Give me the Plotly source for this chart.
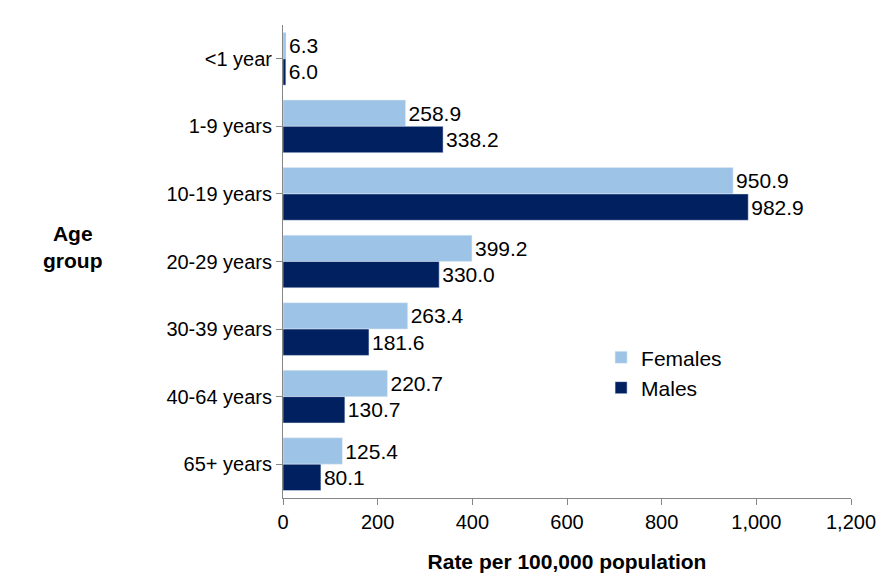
import plotly.graph_objects as go

categories = ["<1 year", "1-9 years", "10-19 years", "20-29 years", "30-39 years", "40-64 years", "65+ years"]
females = [6.3, 258.9, 950.9, 399.2, 263.4, 220.7, 125.4]
males = [6.0, 338.2, 982.9, 330.0, 181.6, 130.7, 80.1]

font = dict(family="Arial, Liberation Sans", size=21, color="black")
fig = go.Figure()
fig.add_trace(go.Bar(y=categories, x=females, orientation="h", name="Females",
                     marker_color="#9DC3E6", text=[f"{v:.1f}" for v in females],
                     textposition="outside", textfont=font, cliponaxis=False))
fig.add_trace(go.Bar(y=categories, x=males, orientation="h", name="Males",
                     marker_color="#002060", text=[f"{v:.1f}" for v in males],
                     textposition="outside", textfont=font, cliponaxis=False))
fig.update_layout(
    width=889, height=584, barmode="group", bargap=0.22, bargroupgap=0,
    plot_bgcolor="white", paper_bgcolor="white", font=font,
    margin=dict(l=275, r=46, t=17, b=94),
    legend=dict(x=0.56, y=0.34, xanchor="left", yanchor="top", font=dict(size=21),
                bgcolor="rgba(0,0,0,0)", tracegroupgap=0),
    xaxis=dict(range=[0, 1200], dtick=200, tickformat=",", showgrid=False, showline=True,
               linecolor="#868686", ticks="outside", tickcolor="#868686", ticklen=6,
               title=dict(text="<b>Rate per 100,000 population</b>", font=dict(size=21), standoff=22),
               tickfont=dict(size=20), zeroline=False, automargin=False),
    yaxis=dict(autorange="reversed", showgrid=False, showline=True, linecolor="#868686",
               ticks="outside", tickcolor="#868686", ticklen=6, tickfont=dict(size=20),
               automargin=False),
)
fig.add_annotation(text="<b>Age<br>group</b>", xref="paper", yref="paper", x=-0.37, y=0.53,
                   xanchor="center", yanchor="middle", showarrow=False, font=dict(size=21), align="center")
fig.write_html("out.html")
